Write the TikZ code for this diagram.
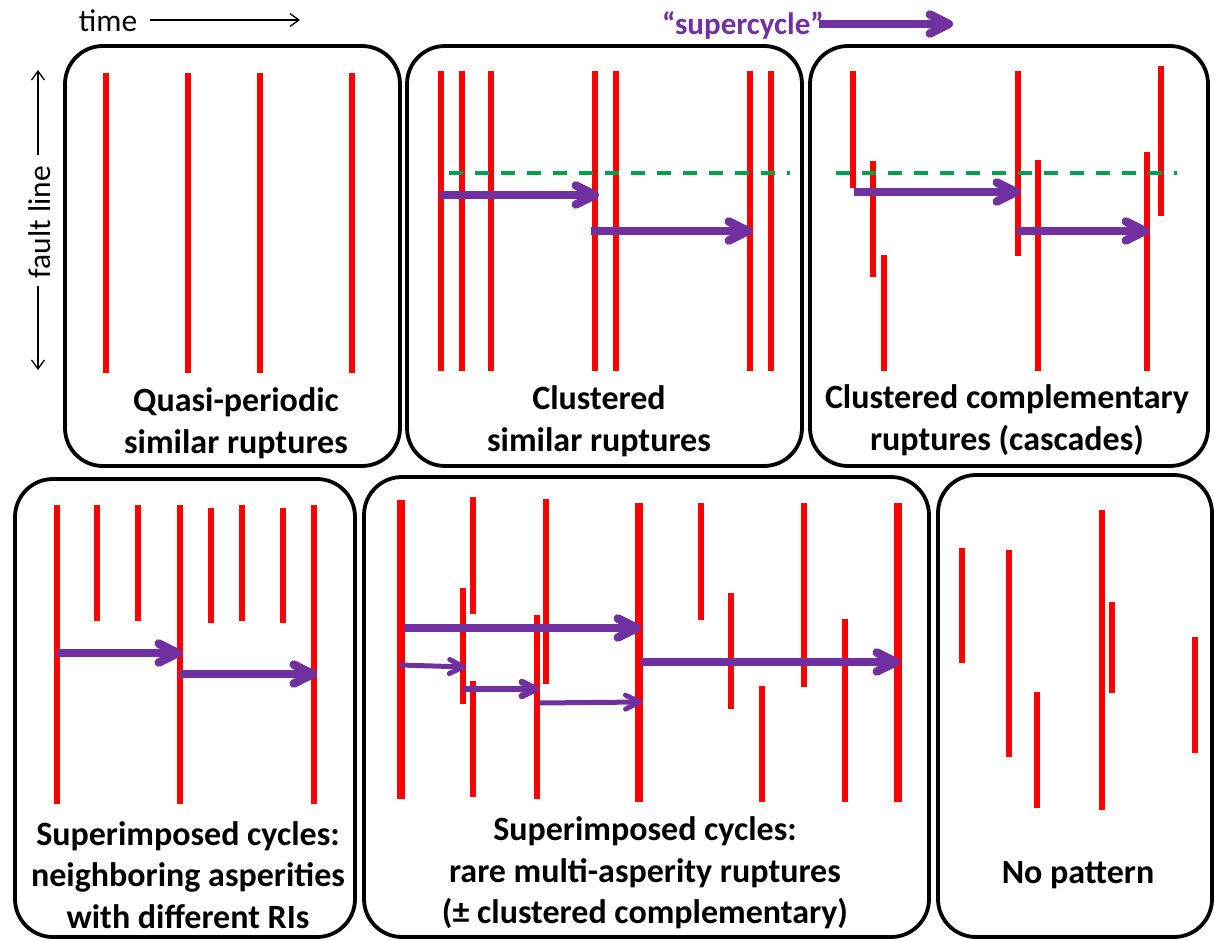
\documentclass[tikz,border=0pt]{standalone}
\usepackage{fontspec}
\setmainfont{Carlito}
\usetikzlibrary{arrows.meta}
\definecolor{rupred}{RGB}{255,0,0}
\definecolor{scpurple}{RGB}{112,48,160}
\definecolor{dashgreen}{RGB}{0,160,80}
\tikzset{
  panel/.style={draw=black, line width=3.8pt, rounded corners=38pt, inner sep=0pt, outer sep=0pt},
  rupt/.style={draw=rupred, line width=6pt},
  ruptthick/.style={draw=rupred, line width=8.5pt},
  scarrow/.style={draw=scpurple, line width=8.5pt, -{Straight Barb[round,length=19pt,width=19pt]}},
  scsmall/.style={draw=scpurple, line width=5pt, -{Straight Barb[round,length=14pt,width=14pt]}},
  greendash/.style={draw=dashgreen, line width=4pt, dash pattern=on 14pt off 12pt},
  lab/.style={font=\bfseries\fontsize{34}{41.5}\selectfont, align=center, inner sep=0pt},
  axislab/.style={font=\fontsize{31.5}{36}\selectfont, inner sep=0pt},
  thinarrow/.style={draw=black, line width=1.3pt, -{Straight Barb[length=9pt,width=13pt]}}
}
\begin{document}
\begin{tikzpicture}[x=1pt,y=-1pt]
\useasboundingbox (0,0) rectangle (1215,941);

% axes
\node[axislab] (time) at (108,21) {time};
\coordinate (tA) at (150,20);
\coordinate (tB) at (300,20);
\draw[thinarrow] (tA) -- (tB);
\node[axislab, rotate=90] (fault) at (40,222) {fault line};
\coordinate (fTopS) at (38,155);
\coordinate (fTop) at (38,70);
\coordinate (fBotS) at (38,286);
\coordinate (fBot) at (38,370);
\draw[thinarrow] (fTopS) -- (fTop);
\draw[thinarrow] (fBotS) -- (fBot);

% supercycle legend
\node[lab, font=\bfseries\fontsize{31}{36}\selectfont, text=scpurple, anchor=west] (sc) at (662,25) {“supercycle”};
\coordinate (scStart) at (819,24);
\coordinate (scEnd) at (953,24);
\draw[scarrow] (scStart) -- (scEnd);

% panels
\node[panel, minimum width=335pt, minimum height=420pt] (b1) at (232.5,256) {};
\node[panel, minimum width=395pt, minimum height=420pt] (b2) at (604.5,256) {};
\node[panel, minimum width=398pt, minimum height=420pt] (b3) at (1009,256) {};
\node[panel, minimum width=340pt, minimum height=458pt] (b4) at (185,708) {};
\node[panel, minimum width=565pt, minimum height=460pt] (b5) at (646.5,707) {};
\node[panel, minimum width=274pt, minimum height=462pt] (b6) at (1075,706) {};

% panel 1
\foreach \x in {106,188,260,352} \draw[rupt] (\x,73) -- (\x,373);
\node[lab] (l1) at (236,423) {Quasi-periodic\\similar ruptures};

% panel 2
\foreach \x in {441,462,491,595,616,750,771} \draw[rupt] (\x,71) -- (\x,371);
\draw[greendash] (449,173) -- (790,173);
\draw[scarrow] (440,195) -- (599,195);
\draw[scarrow] (591,231) -- (752,231);
\node[lab] (l2) at (599,421) {Clustered\\similar ruptures};

% panel 3
\foreach \x/\a/\b in {853/71/188, 873/161/277, 884/255/371, 1018/71/256, 1038/160/371, 1147/152/371, 1161/66/216}
  \draw[rupt] (\x,\a) -- (\x,\b);
\draw[greendash] (836,173) -- (1177,173);
\draw[scarrow] (854,192) -- (1020,192);
\draw[scarrow] (1017,231) -- (1149,231);
\node[lab] (l3) at (1007,420) {Clustered complementary\\ruptures (cascades)};

% panel 4
\foreach \x/\a/\b in {57/505/804, 97/505/621, 138/505/621, 180/505/804, 211/508/623, 242/505/621, 283/508/623, 314/505/804}
  \draw[rupt] (\x,\a) -- (\x,\b);
\draw[scarrow] (57,653) -- (182,653);
\draw[scarrow] (180,674) -- (317,674);
\node[lab] (l4) at (188,875) {Superimposed cycles:\\neighboring asperities\\with different RIs};

% panel 5
\draw[ruptthick] (401,500) -- (401,799);
\draw[ruptthick] (639,503) -- (639,802);
\draw[ruptthick, line width=7.5pt] (898,503) -- (898,802);
\foreach \x/\a/\b in {463/588/704, 473/497/614, 473/681/797, 537/615/799, 546/499/684, 701/503/620, 731/593/709, 762/686/802, 804/503/687, 845/619/802}
  \draw[rupt] (\x,\a) -- (\x,\b);
\draw[scarrow] (404,628) -- (641,628);
\draw[scarrow] (641,662) -- (900,662);
\draw[scsmall] (400,665) -- (466,667);
\draw[scsmall, line width=6.5pt] (463,689) -- (539,689);
\draw[scsmall] (539,703) -- (642,702);
\node[lab] (l5) at (645,873) {Superimposed cycles:\\rare multi-asperity ruptures\\(± clustered complementary)};

% panel 6
\foreach \x/\a/\b in {962/548/663, 1009/550/757, 1037/692/808, 1102/510/810, 1112/602/693, 1195/637/753}
  \draw[rupt] (\x,\a) -- (\x,\b);
\node[lab] (l6) at (1078,875) {No pattern};
\end{tikzpicture}
\end{document}
